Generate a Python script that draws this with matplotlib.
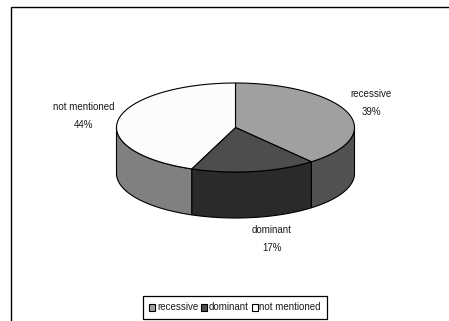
import numpy as np
import matplotlib
matplotlib.use("Agg")
import matplotlib.pyplot as plt
from matplotlib.patches import Polygon, Patch

plt.rcParams["font.family"] = ["Liberation Sans", "DejaVu Sans"]

# Share of each category, in percent
labels = ["recessive", "dominant", "not mentioned"]
values = [39, 17, 44]
top_colors = ["#a0a0a0", "#4d4d4d", "#fcfcfc"]
side_colors = ["#525252", "#2a2a2a", "#808080"]
label_pos = [(371, 103), (272, 239), (84, 116)]

# pie geometry in pixels
cx, cy = 235.5, 127.5
rx, ry = 119, 44.5
depth = 46
lw = 0.8


def arc(a0, a1, dy=0):
    # points along the ellipse between two angles (degrees, counter clockwise)
    n = max(int(abs(a1 - a0)) + 2, 2)
    t = np.radians(np.linspace(a0, a1, n))
    return np.column_stack([cx + rx * np.cos(t), cy - ry * np.sin(t) + dy])


fig = plt.figure(figsize=(4.49, 3.21), dpi=100)
ax = fig.add_axes([0, 0, 1, 1])
ax.set_xlim(0, 449)
ax.set_ylim(321, 0)
ax.axis("off")

# outer frame: only left and top edges are inside the canvas
ax.plot([11, 11, 449], [321, 6.5, 6.5], color="black", lw=1.0, solid_joinstyle="miter")

# slices run clockwise from twelve o'clock
edges = 90 - np.cumsum([0] + values) * 3.6

# side walls first, only the front half of the pie shows (-180 to 0 degrees)
for i in range(len(values)):
    lo = max(edges[i + 1], -180)
    hi = min(edges[i], 0)
    if hi > lo:
        pts = np.vstack([arc(lo, hi), arc(hi, lo, depth)])
        ax.add_patch(Polygon(pts, closed=True, fc=side_colors[i], ec="black", lw=lw, zorder=2))

# top face
for i in range(len(values)):
    pts = np.vstack([[cx, cy], arc(edges[i], edges[i + 1])])
    ax.add_patch(Polygon(pts, closed=True, fc=top_colors[i], ec="black", lw=lw, zorder=3))

# category and percent labels
for name, val, (x, y) in zip(labels, values, label_pos):
    ax.text(x, y, f"{name}\n{val}%", ha="center", va="center", fontsize=7.0,
            color="#1a1a1a", linespacing=2.0)

handles = [Patch(fc=c, ec="black", lw=0.8) for c in top_colors]
leg = ax.legend(handles, labels, ncol=3, loc="center", bbox_to_anchor=(235 / 449, 1 - 307.5 / 321),
                frameon=True, fancybox=False, edgecolor="black", framealpha=1, fontsize=7.0,
                handlelength=0.65, handleheight=0.75, handletextpad=0.15, columnspacing=0.3,
                borderpad=0.65, borderaxespad=0)
leg.get_frame().set_linewidth(0.9)
for t in leg.get_texts():
    t.set_color("#1a1a1a")

fig.savefig("out.png", dpi=100, facecolor="white")
